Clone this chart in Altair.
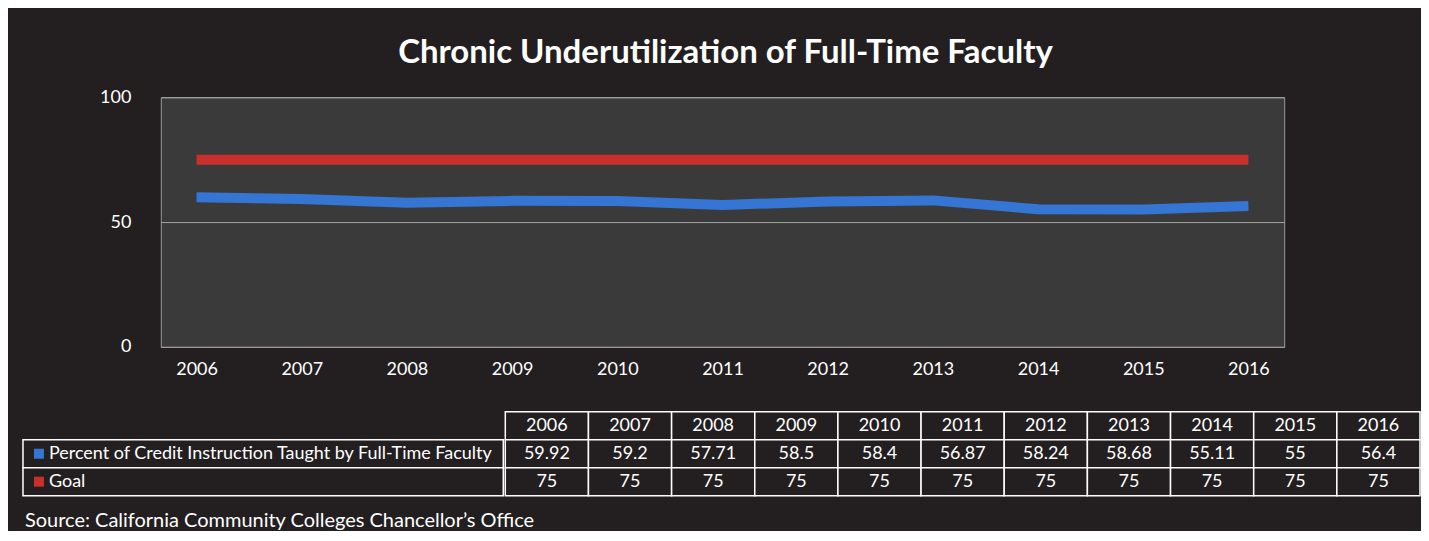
import altair as alt
import pandas as pd

# ---- data ----
years = [2006, 2007, 2008, 2009, 2010, 2011, 2012, 2013, 2014, 2015, 2016]
pct = [59.92, 59.2, 57.71, 58.5, 58.4, 56.87, 58.24, 58.68, 55.11, 55, 56.4]
goal = [75, 75, 75, 75, 75, 75, 75, 75, 75, 75, 75]
series_names = ["Percent of Credit Instruction Taught by Full-Time Faculty", "Goal"]
series_colors = ["#3575d3", "#c9302c"]
y_ticks = [0, 50, 100]
title_text = "Chronic Underutilization of Full-Time Faculty"
source_text = "Source: California Community Colleges Chancellor\u2019s Office"

BG = "#231f20"
FONT = "Lato"
WHITE = "#ffffff"

# long table for the lines
rows = []
for name, vals in zip(series_names, [pct, goal]):
    for y, v in zip(years, vals):
        rows.append({"year": str(y), "value": v, "series": name})
long_df = pd.DataFrame(rows)

color_scale = alt.Scale(domain=series_names, range=series_colors)

lines = (
    alt.Chart(long_df)
    .mark_line(strokeWidth=10, strokeCap="butt", strokeJoin="round")
    .encode(
        x=alt.X(
            "year:O",
            title=None,
            scale=alt.Scale(padding=0.34),
            axis=alt.Axis(
                labelAngle=0,
                labelColor=WHITE,
                labelFont=FONT,
                labelFontSize=18,
                labelPadding=14,
                ticks=False,
                domainColor="#9a9a9a",
                grid=False,
            ),
        ),
        y=alt.Y(
            "value:Q",
            title=None,
            scale=alt.Scale(domain=[0, 100]),
            axis=alt.Axis(
                values=y_ticks,
                labelColor=WHITE,
                labelFont=FONT,
                labelFontSize=18,
                labelPadding=30,
                ticks=False,
                domain=False,
                grid=True,
                gridColor="#a6a6a6",
                gridWidth=1,
                minExtent=136,
            ),
        ),
        color=alt.Color("series:N", scale=color_scale, legend=None),
    )
)

plot = lines.properties(
    width=1125,
    height=250,
    view=alt.ViewBackground(fill="#3a3a3a", stroke="#9a9a9a", strokeWidth=1),
)

# invisible spacer so that the table can start left of the plot's y axis
spacer = (
    alt.Chart(pd.DataFrame({"s": [""]}))
    .mark_text(opacity=0)
    .encode(text="s:N")
    .properties(width=1, height=250)
)

top = alt.hconcat(spacer, plot, spacing=0)

# ---- data table ----
row_keys = ["hdr", "pct", "goal"]
cells = []
for y in years:
    cells.append({"row": "hdr", "year": str(y), "txt": str(y)})
for key, vals in zip(["pct", "goal"], [pct, goal]):
    for y, v in zip(years, vals):
        cells.append({"row": key, "year": str(y), "txt": f"{v:g}"})
cells_df = pd.DataFrame(cells)

ybands = alt.Scale(domain=row_keys, paddingInner=0, paddingOuter=0)
xbands = alt.Scale(paddingInner=0, paddingOuter=0)

right_base = alt.Chart(cells_df).encode(
    x=alt.X("year:O", axis=None, scale=xbands),
    y=alt.Y("row:N", axis=None, scale=ybands),
)
right = (
    right_base.mark_rect(fill=BG, stroke=WHITE, strokeWidth=1.5)
    + right_base.mark_text(color=WHITE, font=FONT, fontSize=18).encode(text="txt:N")
).properties(width=916, height=84)

labels_df = pd.DataFrame(
    {"row": ["pct", "goal"], "label": series_names, "series": series_names, "col": ["c", "c"]}
)
left_base = alt.Chart(labels_df).encode(
    y=alt.Y("row:N", axis=None, scale=ybands),
)
left = (
    left_base.mark_rect(fill=BG, stroke=WHITE, strokeWidth=1.5).encode(
        x=alt.X("col:N", axis=None, scale=xbands)
    )
    + left_base.mark_square(size=100, opacity=1).encode(
        x=alt.value(16),
        color=alt.Color("series:N", scale=color_scale, legend=None),
    )
    + left_base.mark_text(align="left", color=WHITE, font=FONT, fontSize=18).encode(
        x=alt.value(26), text="label:N"
    )
).properties(width=481, height=84)

table = alt.hconcat(left, right, spacing=0)

src = (
    alt.Chart(pd.DataFrame({"t": [source_text]}))
    .mark_text(align="left", baseline="middle", color=WHITE, font=FONT, fontSize=20)
    .encode(x=alt.value(2), y=alt.value(6), text="t:N")
    .properties(width=1397, height=12)
)

bottom = alt.vconcat(table, src, spacing=14)

chart = (
    alt.vconcat(top, bottom, spacing=31)
    .properties(
        background=BG,
        padding={"left": 14, "top": 28, "right": 0, "bottom": 0},
        title=alt.TitleParams(
            title_text,
            font=FONT,
            fontSize=33,
            fontWeight="bold",
            color=WHITE,
            anchor="middle",
            offset=18,
            dx=4,
        ),
    )
    .configure_view(strokeWidth=0)
)

chart.save("out.html", embed_options={"renderer": "svg", "actions": False})
